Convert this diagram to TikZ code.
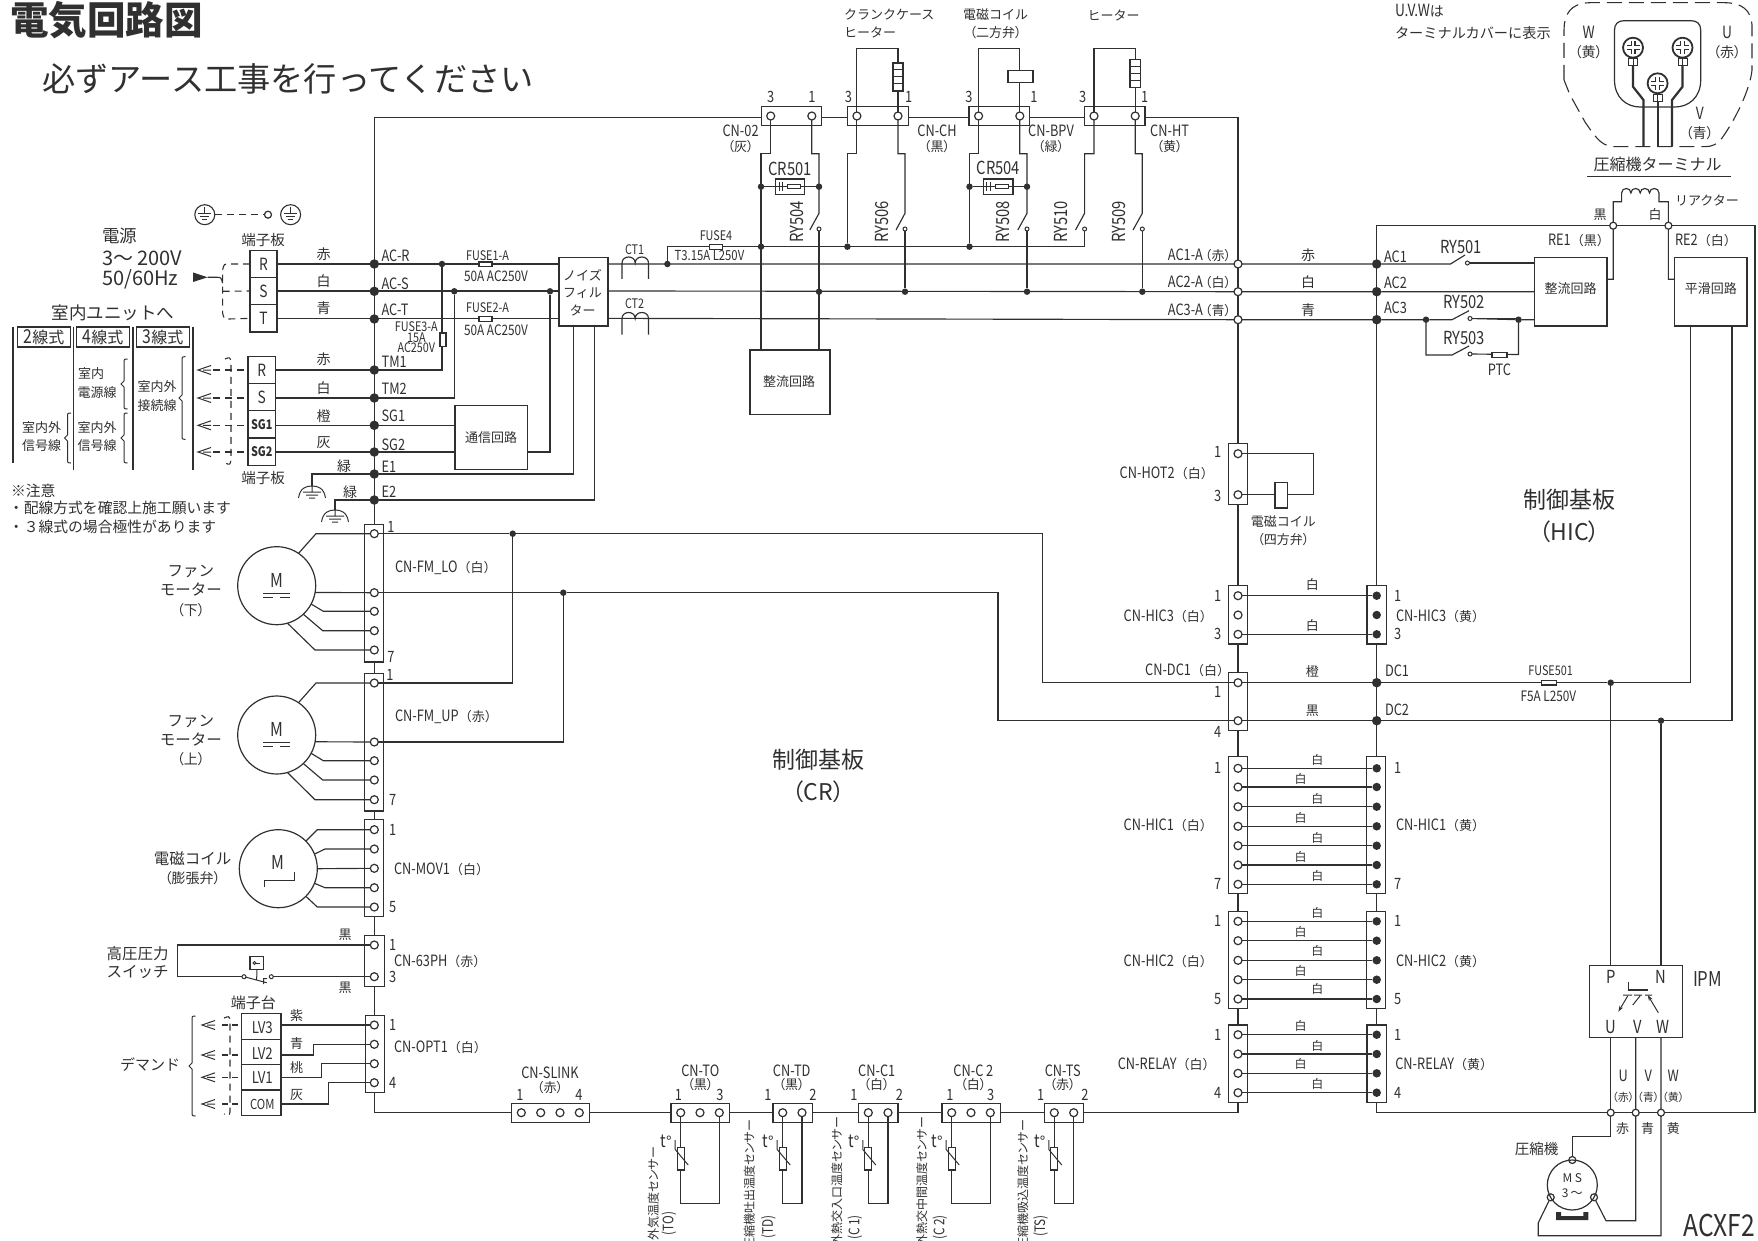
\documentclass[tikz,border=0pt]{standalone}
\usepackage{fontspec}
\setmainfont{Noto Sans CJK JP}
\newfontfamily\nar[FakeStretch=0.82,Scale=1.2]{Noto Sans CJK JP}
\newfontfamily\pal[RawFeature=+palt]{Noto Sans CJK JP}
\usetikzlibrary{backgrounds,arrows.meta}
\definecolor{ink}{HTML}{303030}
\newcommand\fs[1]{\fontsize{#1}{#1}\selectfont}
\newcounter{tn}
\tikzset{
  wire/.style={draw=ink,line width=1.15pt,line join=miter},
  thickwire/.style={draw=ink,line width=2.2pt},
  dashw/.style={draw=ink,line width=1.1pt,dash pattern=on 7pt off 5pt},
  txt/.style={inner sep=0pt,outer sep=0pt,text=ink,font=\fs{13}},
  bx/.style={draw=ink,line width=1.3pt,rectangle,inner sep=0pt,outer sep=0pt},
  wbx/.style={bx,fill=white},
  pinO/.style={circle,draw=ink,line width=1.2pt,fill=white,minimum size=8pt,inner sep=0pt,outer sep=0pt},
  pinS/.style={circle,draw=ink,line width=1pt,fill=white,minimum size=4pt,inner sep=0pt,outer sep=0pt},
  pinB/.style={circle,fill=ink,minimum size=9.5pt,inner sep=0pt,outer sep=0pt},
  pinH/.style={circle,fill=ink,minimum size=8.5pt,inner sep=0pt,outer sep=0pt},
  pinD/.style={circle,fill=ink,minimum size=6.5pt,inner sep=0pt,outer sep=0pt},
  mot/.style={circle,draw=ink,line width=1.2pt,inner sep=0pt,outer sep=0pt,minimum size=78pt},
}
\newcommand\T[4][]{\stepcounter{tn}\node[txt,#1] (t\thetn) at (#2,#3) {#4};}
\newcommand\N[3]{\T{#1}{#2}{\nar #3}}
\newcommand\CN[2]{{\nar #1}（#2）}
\newcommand\Cbox[5]{\pgfmathsetmacro\cx{(#2+#4)/2}\pgfmathsetmacro\cy{(#3+#5)/2}\pgfmathsetmacro\cw{#4-#2}\pgfmathsetmacro\ch{#5-#3}\node[bx,minimum width=\cw pt,minimum height=\ch pt] (#1) at (\cx,\cy) {};}
\newcommand\Wbox[5]{\pgfmathsetmacro\cx{(#2+#4)/2}\pgfmathsetmacro\cy{(#3+#5)/2}\pgfmathsetmacro\cw{#4-#2}\pgfmathsetmacro\ch{#5-#3}\node[wbx,minimum width=\cw pt,minimum height=\ch pt] (#1) at (\cx,\cy) {};}
\newcommand\Brc[3]{\pgfmathsetmacro\ym{(#2+#3)/2}\draw[wire,line width=1pt] (#1+3.5,#2) .. controls (#1,#2) .. (#1,#2+5) -- (#1,\ym-3) -- (#1-3,\ym) -- (#1,\ym+3) -- (#1,#3-5) .. controls (#1,#3) .. (#1+3.5,#3);}
\newcommand\Chev[2]{\draw[wire,line width=1pt] (#1+13,#2-4.5) -- (#1,#2) -- (#1+13,#2+4.5) (#1+5,#2) -- (#1+13,#2);}
\newcommand\EarthIn[2]{\draw[wire,line width=1pt] (#1,#2-8) -- (#1,#2-1) (#1-6.5,#2-1) -- (#1+6.5,#2-1) (#1-4.5,#2+2) -- (#1+4.5,#2+2) (#1-2.5,#2+5) -- (#1+2.5,#2+5);}
\newcommand\Gnd[2]{\draw[wire,line width=1pt] (#1-13.5,#2+12) .. controls (#1-12,#2+2) and (#1-6,#2) .. (#1,#2) .. controls (#1+6,#2) and (#1+12,#2+2) .. (#1+13.5,#2+12) (#1,#2) -- (#1,#2+6) (#1-9,#2+6) -- (#1+9,#2+6) (#1-6,#2+9) -- (#1+6,#2+9) (#1-3,#2+12) -- (#1+3,#2+12);}
\newcommand\CT[1]{\draw[wire] (622,#1+16) -- (622,#1) .. controls (622,#1-8) and (635.2,#1-8) .. (635.2,#1) .. controls (635.2,#1-8) and (648.5,#1-8) .. (648.5,#1) -- (648.5,#1+16);}
\newcommand\Snub[1]{\draw[wire,line width=1pt] (#1+3.5,182) -- (#1+3.5,191.5) (#1+7,182) -- (#1+7,191.5);\draw[wire,line width=1pt,fill=white] (#1+12,184.4) rectangle (#1+25,189);}
\newcommand\Therm[3]{\node[wbx,minimum width=7pt,minimum height=22.3pt] (#3) at (#1,1158.8) {};\draw[wire,line width=1pt] (#1-5.5,1140) -- (#1-5.5,1149.5) -- (#1+7.5,1165);\T[font=\fs{15}]{#1-14.5}{1141}{{\nar t}°}}
\newcommand\Screw[3]{\node[circle,draw=ink,line width=1.8pt,minimum size=20pt,inner sep=0pt,outer sep=0pt] (#3) at (#1,#2) {};\draw[ink,line width=5pt] (#1-6.5,#2) -- (#1+6.5,#2) (#1,#2-6.5) -- (#1,#2+6.5);\draw[white,line width=2.6pt] (#1-6.5,#2) -- (#1+6.5,#2) (#1,#2-6.5) -- (#1,#2+6.5);\draw[wire,line width=1pt,fill=white] (#1-4.5,#2+11) rectangle (#1+4.5,#2+18);\draw[wire,line width=1pt] (#1,#2+11) -- (#1,#2+18);}
\newcommand\MotSign[2]{\T[font=\fs{16}]{#1}{#2-6}{\nar M}\draw[wire,line width=1pt] (#1-13.4,#2+7) -- (#1+13.4,#2+7) (#1-13.4,#2+11.5) -- (#1-4,#2+11.5) (#1+3.5,#2+11.5) -- (#1+13.4,#2+11.5);}
\begin{document}
\begin{tikzpicture}[x=1pt,y=-1pt]
\useasboundingbox (0,0) rectangle (1758,1241);

%% ----- connector boxes -----
\Cbox{cn02}{761.5}{106.7}{821.7}{125.7}
\Cbox{cnch}{847.8}{106.7}{908.3}{125.7}
\Cbox{cnbpv}{969}{106.7}{1029.6}{125.7}
\Cbox{cnht}{1084.6}{106.7}{1145}{125.7}
\Cbox{fmlo}{364.3}{524.3}{383.3}{662}
\Cbox{fmup}{364.3}{673.7}{383.3}{811}
\Cbox{mov}{364.3}{819.7}{383.7}{916.7}
\Cbox{ph}{364.7}{935.3}{384.3}{986.3}
\Cbox{opt}{365.3}{1015.3}{384.3}{1092.7}
\Cbox{slink}{511.7}{1103.3}{589.3}{1122.3}
\Cbox{to}{671}{1103.3}{729.7}{1122.7}
\Cbox{td}{773}{1103.3}{812.3}{1122.7}
\Cbox{cc1}{858.7}{1103.3}{898}{1122.7}
\Cbox{cc2}{942}{1103.3}{1000.7}{1122.7}
\Cbox{ts}{1044.7}{1103.3}{1083.7}{1122.7}
\Cbox{hot}{1228.3}{443.7}{1247.7}{504.3}
\Cbox{h3l}{1228.3}{585.7}{1247.7}{644}
\Cbox{h3r}{1367}{585.7}{1386.3}{644}
\Cbox{dcl}{1228.3}{672.7}{1247.7}{730.7}
\Cbox{h1l}{1228.3}{756.7}{1247.7}{893.7}
\Cbox{h1r}{1366.5}{756.7}{1385.7}{893.7}
\Cbox{h2l}{1228.3}{911.7}{1247.7}{1008.3}
\Cbox{h2r}{1366.5}{911.7}{1385.7}{1008.3}
\Cbox{rll}{1228.3}{1025}{1247.7}{1102.7}
\Cbox{rlr}{1367}{1025}{1386.3}{1102.7}
%% ----- function boxes -----
\Cbox{nf}{559}{257.7}{608}{326}
\Cbox{comm}{455}{405.7}{527.5}{469.3}
\Cbox{rect1}{750}{350}{830}{414.3}
\Cbox{rect2}{1534.7}{257.3}{1607}{326}
\Cbox{smooth}{1674.4}{257.7}{1747}{326}
\Cbox{ipm}{1589.3}{965.3}{1682.7}{1037.3}
%% terminal boards
\Cbox{tb1}{250}{250.7}{277}{277.3}
\Cbox{tb2}{250}{277.3}{277}{304.7}
\Cbox{tb3}{250}{304.7}{277}{332}
\Cbox{ta1}{248}{356.7}{275.6}{383.7}
\Cbox{ta2}{248}{383.7}{275.6}{410.7}
\Cbox{ta3}{248}{410.7}{275.6}{438}
\Cbox{ta4}{248}{438}{275.6}{465.7}
\Cbox{lv3}{241.3}{1013.7}{281}{1039.3}
\Cbox{lv2}{241.3}{1039.3}{281}{1064.7}
\Cbox{lv1}{241.3}{1064.7}{281}{1090}
\Cbox{com}{241.3}{1090}{281}{1115.3}

%% ----- pins -----
\foreach \n/\x in {cn02a/770.7,cn02b/811.8,chA/856.9,chB/898,bpA/978.6,bpB/1019.8,htA/1094,htB/1135.2}
  \node[pinO] (\n) at (\x,116) {};
\foreach \n/\y in {lo1/533.7,lo4/592.7,lo5/611.3,lo6/630.7,lo7/650,up1/683,up4/742,up5/760.7,up6/780,up7/799.7,mv1/829.7,mv2/849,mv3/868.3,mv4/887.7,mv5/907,ph1/945,ph3/976.7,op1/1025,op2/1044.3,op3/1063.7,op4/1082.7}
  \node[pinO] (\n) at (374.3,\y) {};
\foreach \n/\x in {sl1/521.3,sl2/540.7,sl3/560,sl4/579.3,to1/680.7,to2/700,to3/719.3,td1/782.7,td2/802,c11/868.3,c12/888,c21/951.7,c22/971,c23/990.3,ts1/1054.3,ts2/1073.7}
  \node[pinO] (\n) at (\x,1112.7) {};
\foreach \n/\y in {ho1/453.7,ho3/494.7}
  \node[pinO] (\n) at (1238,\y) {};
\foreach \i/\y in {1/595.7,2/615,3/634.3}{
  \node[pinO] (h3l\i) at (1238,\y) {};
  \node[pinH] (h3r\i) at (1376.7,\y) {};}
\node[pinO] (dc1) at (1238,682.7) {};
\node[pinO] (dc2) at (1238,720.7) {};
\foreach \i/\y in {1/768.3,2/787,3/806.7,4/826.3,5/845.7,6/865,7/884.3}{
  \node[pinO] (h1l\i) at (1238,\y) {};
  \node[pinH] (h1r\i) at (1376.7,\y) {};}
\foreach \i/\y in {1/921.3,2/940.7,3/960.3,4/979.7,5/999}{
  \node[pinO] (h2l\i) at (1238,\y) {};
  \node[pinH] (h2r\i) at (1376.7,\y) {};}
\foreach \i/\y in {1/1034.7,2/1054,3/1073.3,4/1092.7}{
  \node[pinO] (rll\i) at (1238,\y) {};
  \node[pinH] (rlr\i) at (1376.7,\y) {};}
%% bus junctions
\foreach \n/\y in {dAR/264,dAS/291.3,dAT/319,dTM1/370,dTM2/398,dSG1/425.3,dSG2/452,dE1/474,dE2/500}
  \node[pinB] (\n) at (374.3,\y) {};
\foreach \n/\y in {oA1/264,oA2/291.7,oA3/319.7}
  \node[pinO] (\n) at (1238,\y) {};
\foreach \n/\y in {bA1/264,bA2/291.7,bA3/319.7,bDC1/682.7,bDC2/720.7}
  \node[pinB] (\n) at (1376.7,\y) {};
\foreach \n/\x/\y in {d442/442/264,d454/454.3/291.3,d550/550/291.3,dF4/667.4/264,d761a/761/186.7,d819a/819/186.7,d761b/761/246.7,d847/847.4/246.7,d969b/969.5/246.7,d969a/969.5/186.7,d1027a/1027/186.7,d819c/819/291.7,d905/905/291.7,d1027c/1027/291.7,d1142/1142.3/291.7,dLoa/512.7/533.7,dLob/563.3/592.7,d1426/1426/319.7,d1518/1518.5/319.7,dP/1610.7/682.7,dN/1661/720.7}
  \node[pinD] (\n) at (\x,\y) {};
\foreach \n/\x/\y in {oRE1/1613.2/225.7,oRE2/1668.4/225.7,oU/1610.7/1112.7,oV/1635.7/1112.7,oW/1661/1112.7,mT/1572.3/1160,mV/1594/1197.3,mW/1550.7/1197.3}
  \node[pinO,minimum size=7pt] (\n) at (\x,\y) {};
%% relay contacts
\foreach \n/\x/\y in {kA/819/229,kB/905/229,kC/1027/229,kD/1084.6/229,kE/1142.3/229,kF/1467.4/263,kG/1470/318.5,kH/1470/354,ph_a/244/976.7,ph_b/271.3/976.7}
  \node[pinS] (\n) at (\x,\y) {};

%% ----- inline components -----
\Wbox{fuse1}{479}{262}{492}{266.7}
\Wbox{fuse2}{479}{316.7}{492}{321.3}
\Wbox{fuse3}{440}{333}{446}{346.7}
\Wbox{fuse4}{709.8}{244.3}{722.8}{249.3}
\Wbox{fuse5}{1541.6}{680.5}{1556.2}{685}
\Wbox{ptc}{1492}{352.7}{1507}{357.3}
\Wbox{heatA}{893}{63}{903}{91}
\Wbox{heatB}{1130}{59.3}{1140.4}{87.3}
\Wbox{coilA}{1008}{70.7}{1033}{82.7}
\Wbox{coilB}{1275}{482.7}{1287.7}{508}
\draw[wire,line width=1pt] (893,70) -- (903,70) (893,77) -- (903,77) (893,84) -- (903,84);
\draw[wire,line width=1pt] (1130,66.3) -- (1140.4,66.3) (1130,73.3) -- (1140.4,73.3) (1130,80.3) -- (1140.4,80.3);
\Cbox{crA}{775.8}{179}{804.7}{194.7}
\Cbox{crB}{983.4}{179}{1013}{194.7}
\Snub{775.8}
\Snub{983.4}
%% pressure switch
\Cbox{pbox}{250}{956.7}{263.7}{969.3}
\node[pinS,minimum size=3pt] (pboxO) at (254.5,963) {};
\draw[wire,line width=1pt] (pboxO) -- (260,963);

%% motors
\node[mot] (mA) at (276.7,585.7) {};
\node[mot] (mB) at (276.7,735) {};
\node[mot] (mC) at (278.3,868.7) {};
\node[circle,draw=ink,line width=1.2pt,minimum size=50pt,inner sep=0pt,outer sep=0pt] (comp) at (1572.3,1185) {};
\MotSign{276.7}{586}
\MotSign{276.7}{735}
\T[font=\fs{16}]{278.3}{862.7}{\nar M}
\draw[wire,line width=1pt] (264,887.3) -- (264,880) -- (294.3,880) -- (294.3,872.3);
%% earth
\node[circle,draw=ink,line width=1.1pt,minimum size=20pt,inner sep=0pt,outer sep=0pt] (eA) at (204.8,214.7) {};
\node[circle,draw=ink,line width=1.1pt,minimum size=20pt,inner sep=0pt,outer sep=0pt] (eB) at (290.6,214.7) {};
\EarthIn{204.8}{214.7}
\EarthIn{290.6}{214.7}
\node[pinO,minimum size=7pt] (eO) at (268,214.7) {};
\Gnd{312}{486}
\Gnd{335}{510}

%% compressor terminal detail
\draw[ink,line width=1.1pt,dash pattern=on 15pt off 7pt] (1564,80) -- (1564,30) .. controls (1564,15) and (1570,3) .. (1590,2.7) -- (1725,2.7) .. controls (1742,3) and (1751,10) .. (1752,25) -- (1752,70) .. controls (1750,90) and (1735,120) .. (1722,138) .. controls (1718,144) and (1712,146.7) .. (1705,146.7) -- (1612,146.7) .. controls (1600,145) and (1594,135) .. (1585,122) -- (1570,95) -- cycle;
\draw[ink,line width=1.2pt] (1624,20.7) -- (1691,20.7) .. controls (1697,20.7) and (1700.7,24) .. (1700.7,30) -- (1700.7,80) .. controls (1700.7,98) and (1688,107) .. (1675,107) -- (1640,107) .. controls (1627,107) and (1614.5,98) .. (1614.5,80) -- (1614.5,30) .. controls (1614.5,24) and (1618,20.7) .. (1624,20.7) -- cycle;
\coordinate (lugA) at (1633,66);
\coordinate (lugB) at (1682.5,66);
\coordinate (lugC) at (1657.6,101.5);
\coordinate (endA) at (1643.5,146.7);
\coordinate (endB) at (1672,146.7);
\coordinate (endC) at (1657.6,146.7);
\draw[thickwire] (lugA) -- (1633,86.7) -- (1643.5,100) -- (endA);
\draw[thickwire] (lugB) -- (1682.5,86.7) -- (1672,100) -- (endB);
\draw[thickwire] (lugC) -- (endC);
\Screw{1633}{47.7}{scA}
\Screw{1682.5}{47.7}{scB}
\Screw{1657.6}{83.3}{scC}
\coordinate (ulA) at (1587,176.7);
\coordinate (ulB) at (1730.7,176.7);
\draw[wire] (ulA) -- (ulB);

%% ----- wires under the pins -----
\begin{pgfonlayer}{background}
%% CR board bus
\coordinate (tl) at (374.3,117.7);
\coordinate (tr) at (1238,117.7);
\coordinate (bl) at (374.3,1112.7);
\coordinate (br) at (1238,1112.7);
\draw[wire] (fmlo.north -| tl) -- (tl) -- (cn02.west |- tl);
\draw[wire] (cn02.east |- tl) -- (cnch.west |- tl);
\draw[wire] (cnch.east |- tl) -- (cnbpv.west |- tl);
\draw[wire] (cnbpv.east |- tl) -- (cnht.west |- tl);
\draw[wire] (cnht.east |- tl) -- (tr) -- (hot.north -| tr);
\draw[wire] (hot.south -| tr) -- (h3l.north -| tr);
\draw[wire] (h3l.south -| tr) -- (dcl.north -| tr);
\draw[wire] (dcl.south -| tr) -- (h1l.north -| tr);
\draw[wire] (h1l.south -| tr) -- (h2l.north -| tr);
\draw[wire] (h2l.south -| tr) -- (rll.north -| tr);
\draw[wire] (rll.south -| tr) -- (br) -- (ts.east |- br);
\draw[wire] (ts.west |- br) -- (cc2.east |- br);
\draw[wire] (cc2.west |- br) -- (cc1.east |- br);
\draw[wire] (cc1.west |- br) -- (td.east |- br);
\draw[wire] (td.west |- br) -- (to.east |- br);
\draw[wire] (to.west |- br) -- (slink.east |- br);
\draw[wire] (slink.west |- bl) -- (bl) -- (opt.south -| bl);
\draw[wire] (opt.north -| bl) -- (ph.south -| bl);
\draw[wire] (ph.north -| bl) -- (mov.south -| bl);
\draw[wire] (mov.north -| bl) -- (fmup.south -| bl);
\draw[wire] (fmup.north -| bl) -- (fmlo.south -| bl);
%% HIC board
\coordinate (htl) at (1376.7,225.7);
\coordinate (htr) at (1755,225.7);
\coordinate (hbl) at (1376.7,1112.7);
\coordinate (hbr) at (1755,1112.7);
\draw[wire] (h3r.north -| htl) -- (htl) -- (htr) -- (hbr) -- (hbl) -- (rlr.south -| hbl);
\draw[wire] (h3r.south -| htl) -- (h1r.north -| htl);
\draw[wire] (h1r.south -| htl) -- (h2r.north -| htl);
\draw[wire] (h2r.south -| htl) -- (rlr.north -| htl);
%% mains
\draw[wire] (tb1.east) -- (tb1.east -| nf.west);
\draw[wire] (tb2.east) -- (tb2.east -| nf.west);
\draw[wire] (tb3.east) -- (tb3.east -| nf.west);
\draw[wire] (tb1.east -| nf.east) -- (oA1) -- (bA1) -- (1450.5,264) -- (1465,255);
\draw[wire] (tb2.east -| nf.east) -- (oA2) -- (bA2) -- (rect2.west |- bA2);
\draw[wire] (tb3.east -| nf.east) -- (oA3) -- (bA3) -- (d1426) -- (1452,319.7) -- (1469,310.7);
\draw[wire] (kG) -- (d1518) -- (rect2.west |- d1518);
\draw[wire] (ta1.east |- dTM1) -- (d442 |- dTM1) -- (d442);
\draw[wire] (ta2.east |- dTM2) -- (d454 |- dTM2) -- (d454);
\draw[wire] (ta3.east |- dSG1) -- (comm.west |- dSG1);
\draw[wire] (ta4.east |- dSG2) -- (comm.west |- dSG2);
\draw[wire] (comm.east |- dSG2) -| (d550);
\coordinate (nfA) at (573.4,326);
\coordinate (nfB) at (594.7,326);
\draw[wire] (312,486) |- (dE1) -| (nfA);
\draw[wire] (335,510) |- (dE2) -| (nfB);
%% feeder
\draw[wire] (dF4) |- (d761b) -| (kD);
\coordinate (ra) at (761,350);
\coordinate (rb) at (819,350);
\draw[wire] (cn02a) -- (770.7,153.7) -- (761,153.7) -- (ra);
\draw[wire] (cn02b) -- (811.8,153.7) -- (819,153.7) -- (819,213.3) -- (809.8,230);
\draw[wire] (kA) -- (rb);
\draw[wire] (chA) -- (856.9,153.7) -- (847.4,153.7) -- (d847);
\draw[wire] (chB) -- (898,153.7) -- (905,153.7) -- (905,213.3) -- (896,230);
\draw[wire] (kB) -- (d905);
\draw[wire] (bpA) -- (978.6,153.7) -- (969.5,153.7) -- (d969b);
\draw[wire] (bpB) -- (1019.8,153.7) -- (1027,153.7) -- (1027,213.3) -- (1017.8,230);
\draw[wire] (kC) -- (d1027c);
\draw[wire] (htA) -- (1094,153.7) -- (1084.6,153.7) -- (1084.6,213.3) -- (1075.5,230);
\draw[wire] (htB) -- (1135.2,153.7) -- (1142.3,153.7) -- (1142.3,213.3) -- (1133,230);
\draw[wire] (kE) -- (d1142);
\draw[wire] (d761a) -- (d819a);
\draw[wire] (d969a) -- (d1027a);
%% loads above the top connectors
\draw[wire] (chA) |- (898,48.7) -- (chB);
\draw[wire] (bpA) |- (1019.8,48.7) -- (bpB);
\draw[wire] (htA) |- (1135.2,48.7) -- (htB);
%% HIC reactors
\draw[wire] (kF) -- (rect2.west |- kF);
\draw[wire] (kG) -- (1518.5,318.5);
\draw[wire] (d1426) |- (1452,355) -- (1469,346);
\draw[wire] (kH) -- (1518.5,354.5) -- (d1518);
\draw[wire] (rect2.east |- 0,279.3) -| (oRE1) -- (1613.2,201.7) -- (1621.6,201.7) -- (1621.6,193) .. controls (1621.6,187) and (1630.9,187) .. (1630.9,193) .. controls (1630.9,187) and (1640.2,187) .. (1640.2,193) .. controls (1640.2,187) and (1649.5,187) .. (1649.5,193) .. controls (1649.5,187) and (1659,187) .. (1659,193) -- (1659,201.7) -- (1668.4,201.7) -- (oRE2) |- (smooth.west |- 0,279.3);
%% fans
\draw[wire] (mA.56) -- (316,533.7) -- (lo1);
\draw[wire] (mA.-10) -- (lo4);
\draw[wire] (mA.-28.5) -- (323.3,611.3) -- (lo5);
\draw[wire] (mA.-47) -- (322.7,630.7) -- (lo6);
\draw[wire] (mA.-74) -- (315,650) -- (lo7);
\draw[wire] (mB.56) -- (316,683) -- (up1);
\draw[wire] (mB.-10) -- (up4);
\draw[wire] (mB.-28.5) -- (323.3,760.7) -- (up5);
\draw[wire] (mB.-47) -- (322.7,780) -- (up6);
\draw[wire] (mB.-74) -- (315,799.7) -- (up7);
\draw[wire] (mC.45) -- (317.3,829.7) -- (mv1);
\draw[wire] (mC.22) -- (325,849) -- (mv2);
\draw[wire] (mC.0) -- (mv3);
\draw[wire] (mC.-22) -- (325,887.7) -- (mv4);
\draw[wire] (mC.-45) -- (317.3,907) -- (mv5);
\draw[wire] (lo1) -- (dLoa) -- (1042.7,533.7) -- (1042.7,682.7) -- (dc1);
\draw[wire] (lo4) -- (dLob) -- (998,592.7) -- (998,720.7) -- (dc2);
\draw[wire] (up1) -| (dLoa);
\draw[wire] (up4) -| (dLob);
%% DC
\coordinate (smA) at (1690.6,326);
\coordinate (smB) at (1732,326);
\draw[wire] (dc1) -- (bDC1) -- (dP) -| (smA);
\draw[wire] (dc2) -- (bDC2) -- (dN) -| (smB);
\draw[wire] (dP) -- (dP |- ipm.north);
\draw[wire] (dN) -- (dN |- ipm.north);
%% HIC connectors
\draw[wire] (h3l1) -- (h3r1);
\draw[wire] (h3l3) -- (h3r3);
\foreach \i in {1,...,7} \draw[wire] (h1l\i) -- (h1r\i);
\foreach \i in {1,...,5} \draw[wire] (h2l\i) -- (h2r\i);
\foreach \i in {1,...,4} \draw[wire] (rll\i) -- (rlr\i);
%% hot2
\draw[wire] (ho1) -- (1313.3,453.7) -- (1313.3,494.7) -- (ho3);
%% 63PH
\draw[wire] (ph1) -- (177.3,945) -- (177.3,976.7) -- (ph_a);
\draw[wire] (ph_b) -- (ph3);
\draw[wire,line width=1pt] (ph_a) -- (266.7,982.7) (pbox.south) -- (256.7,980) (263.5,984) -- (263.5,978.5) -- (267,978.5);
%% opt
\draw[wire] (lv3.east |- op1) -- (op1);
\draw[wire] (lv2.east |- 0,1055) -- (313.3,1055) -- (313.3,1044.3) -- (op2);
\draw[wire] (lv1.east |- 0,1077.7) -- (321.7,1077.7) -- (321.7,1063.7) -- (op3);
\draw[wire] (com.east |- 0,1104) -- (328.7,1104) -- (328.7,1082.7) -- (op4);
%% sensors
\foreach \a/\b in {to1/to3,td1/td2,c11/c12,c21/c23,ts1/ts2}
  \draw[wire] (\a) |- (\b |- 0,1203.3) -- (\b);
%% IPM to compressor
\draw[wire] (ipm.south -| oU) -- (oU) -- (1610.7,1136.7) -- (1572.3,1136.7) -- (mT);
\draw[wire] (ipm.south -| oV) -- (oV) -- (1635.7,1220.7) -- (1606,1220.7) -- (mV);
\draw[wire] (ipm.south -| oW) -- (oW) -- (1661,1235.7) -- (1538.3,1235.7) -- (1538.3,1222.7) -- (mW);
%% mains dashes
\draw[dashw] (tb1.west) -- (229,264) .. controls (224,264) .. (222.6,270) -- (222.6,313) .. controls (224,319) .. (229,319) -- (tb3.west);
\draw[dashw] (222.6,291.3) -- (tb2.west);
\draw[wire] (207.6,277.3) -- (217,277.3) .. controls (221,277.3) .. (222.6,283);
\draw[dashw] (eA) -- (eO);
\draw[dashw] (225,359) .. controls (230,357) .. (231,362) -- (231,460) .. controls (230,465) .. (225,463);
\foreach \y/\n in {370/ta1,398/ta2,425.3/ta3,452/ta4}
  \draw[dashw] (213,\y) -- (\n.west |- 0,\y);
\draw[dashw] (224,1018) .. controls (229,1016) .. (230,1020) -- (230,1112) .. controls (229,1116) .. (224,1114);
\foreach \y/\n in {1025/lv3,1055/lv2,1077.3/lv1,1104/com}
  \draw[dashw,dash pattern=on 6pt off 4pt] (222,\y) -- (\n.west |- 0,\y);
\end{pgfonlayer}

%% symbols that sit on top
\fill[ink] (193,272.5) -- (207.6,277.3) -- (193,282) -- cycle;
\foreach \y in {370,398,425.3,452} {\Chev{198}{\y}}
\foreach \y in {1025,1055,1077.3,1104} {\Chev{202}{\y}}
\CT{263}
\CT{318.5}
\Therm{680.7}{0}{thA}
\Therm{782.7}{0}{thB}
\Therm{868.3}{0}{thC}
\Therm{951.7}{0}{thD}
\Therm{1054.3}{0}{thE}
\fill[ink] (1556,1212) -- (1561,1212) -- (1561,1216) -- (1583.3,1216) -- (1583.3,1212) -- (1588.3,1212) -- (1588.3,1220) -- (1556,1220) -- cycle;
\draw[wire] (1628.3,981.7) -- (1628.3,990) -- (1648.3,990);
\draw[wire,line width=1pt] (1623,995) -- (1632,995) (1634,995) -- (1642,995) (1645,995) -- (1652,995) (1640,996) -- (1632.7,1005);
\draw[wire,line width=1pt,-{Stealth[length=6pt,width=4pt]}] (1627.7,996) -- (1618.3,1011.7);
\draw[wire,line width=1pt,-{Stealth[length=6pt,width=4pt]}] (1658.3,1012.7) -- (1647.7,995);
%% brackets
\Brc{124}{359}{409}
\Brc{124}{413}{463}
\Brc{67.5}{413}{463}
\Brc{182}{356.7}{439.3}
\Brc{192}{1016}{1116}
%% table
\draw[wire] (13,326.7) -- (13,462.7) (73.5,326.7) -- (73.5,470) (133,326.7) -- (133,470) (193,326.7) -- (193,470);
\Cbox{w2}{17.8}{327}{70.4}{347}
\Cbox{w4}{76.3}{327}{129.3}{347}
\Cbox{w3}{136.4}{327}{189.8}{347}

%% ------- texts -------
\T[anchor=west,font=\fs{38.5}\bfseries]{10}{20}{電気回路図}
\T[anchor=west,font=\fs{33.2}]{42}{78.5}{必ずアース工事を行ってください}
\T[font=\fs{17.5}]{119.5}{236}{電源}
\T[anchor=west,font=\fs{20}]{102}{258}{3〜 200V}
\T[anchor=west,font=\fs{20}]{102}{279}{50/60Hz}
\T[font=\fs{14.5}]{263}{240}{端子板}
\T[font=\fs{14.5}]{263}{478}{端子板}
\T[font=\fs{17.5}]{113}{313}{室内ユニットへ}
\T[font=\fs{16}]{44}{337}{{\nar 2}線式}
\T[font=\fs{16}]{103}{337}{{\nar 4}線式}
\T[font=\fs{16}]{163}{337}{{\nar 3}線式}
\T{91}{374}{室内}
\T{97}{392.7}{電源線}
\T{41.5}{427.7}{室内外}
\T{41.5}{445.7}{信号線}
\T{97}{427.7}{室内外}
\T{97}{445.7}{信号線}
\T{157}{387}{室内外}
\T{157}{406}{接続線}
\T[font=\fs{14}]{263.5}{264}{\nar R}
\T[font=\fs{14}]{263.5}{291}{\nar S}
\T[font=\fs{14}]{263.5}{318.5}{\nar T}
\T[font=\fs{14}]{261.8}{370}{\nar R}
\T[font=\fs{14}]{261.8}{397}{\nar S}
\T[font=\fs{11}\bfseries]{261.8}{424.5}{\nar SG1}
\T[font=\fs{11}\bfseries]{261.8}{452}{\nar SG2}
\T[anchor=west,font=\fs{14.8}]{11}{491}{※注意}
\T[anchor=west,font=\fs{14.8}]{9}{508}{・配線方式を確認上施工願います}
\T[anchor=west,font=\fs{14.8}]{9}{527}{・３線式の場合極性があります}
\foreach \x/\y/\s in {323.5/254/赤,323.5/280.7/白,323.5/308/青,323.5/359/赤,323.5/387.7/白,323.5/415.7/橙,323.5/442.7/灰,344/465.7/緑,350/492/緑,1308/255.7/赤,1308/282/白,1308/310/青}
  {\T[font=\fs{14}]{\x}{\y}{\s}}
\foreach \y/\s in {256/AC-R,283.7/AC-S,310/AC-T,362/TM1,389/TM2,416/SG1,444.7/SG2,466.7/E1,492/E2}
  {\T[anchor=west]{381.6}{\y}{\nar \s}}
\T[font=\fs{11}]{487.5}{255.3}{\nar FUSE1-A}
\T[font=\fs{12}]{496}{276}{\nar 50A AC250V}
\T[font=\fs{11}]{487.5}{308}{\nar FUSE2-A}
\T[font=\fs{12}]{496}{330}{\nar 50A AC250V}
\T[font=\fs{11}]{416.4}{326.7}{\nar FUSE3-A}
\T[font=\fs{11}]{416.4}{337.3}{\nar 15A}
\T[font=\fs{11}]{416.4}{348}{\nar AC250V}
\T{582.5}{275}{ノイズ}
\T{582.5}{292.7}{フィル}
\T{582.5}{310}{ター}
\T{491}{437.5}{通信回路}
\T{789}{381.7}{整流回路}
\T{1570.7}{288.3}{整流回路}
\T{1710.8}{288.3}{平滑回路}
\T[font=\fs{11}]{634.6}{250}{\nar CT1}
\T[font=\fs{11}]{634.6}{304}{\nar CT2}
\T[font=\fs{11}]{716}{236}{\nar FUSE4}
\T[anchor=west,font=\fs{11.5}]{674.6}{256}{\nar T3.15A L250V}
\T[font=\fs{15}]{790}{169}{\nar CR501}
\T[font=\fs{15}]{998.4}{167.7}{\nar CR504}
\foreach \x/\s in {796.7/RY504,881.8/RY506,1003.5/RY508,1061/RY510,1119/RY509}
  {\T[rotate=90,font=\fs{15}]{\x}{222}{\nar \s}}
\foreach \x/\s in {770.7/3,811.8/1,848.5/3,908.6/1,968.8/3,1034/1,1082.6/3,1144.7/1}
  {\N{\x}{96.7}{\s}}
\T{740.6}{130.7}{\nar CN-02}\T{740.6}{146.7}{\pal（灰）}
\T{937}{130.7}{\nar CN-CH}\T{937}{146.7}{\pal（黒）}
\T{1051}{130.7}{\nar CN-BPV}\T{1051}{146.7}{\pal（緑）}
\T{1169.6}{130.7}{\nar CN-HT}\T{1169.6}{146.7}{\pal（黄）}
\T[anchor=west]{844}{15}{クランクケース}
\T[anchor=west]{844}{32}{ヒーター}
\T{995.6}{15}{電磁コイル}
\T{995.6}{32.7}{\pal（二方弁）}
\T{1113.5}{15}{ヒーター}
\T[anchor=east]{1231}{255.7}{{\nar AC1-A}\hspace{2pt}{\pal（赤）}}
\T[anchor=east]{1231}{282.7}{{\nar AC2-A}\hspace{2pt}{\pal（白）}}
\T[anchor=east]{1231}{310}{{\nar AC3-A}\hspace{2pt}{\pal（青）}}
%% right top
\T[anchor=west]{1384}{256.7}{\nar AC1}
\T[anchor=west]{1384}{283}{\nar AC2}
\T[anchor=west]{1384}{308}{\nar AC3}
\T[font=\fs{15}]{1461}{246.7}{\nar RY501}
\T[font=\fs{15}]{1464}{301.7}{\nar RY502}
\T[font=\fs{15}]{1464}{338.3}{\nar RY503}
\T[font=\fs{13}]{1499.4}{370}{\nar PTC}
\T{1600}{215}{黒}
\T{1655}{215}{白}
\T[anchor=west]{1675}{200}{リアクター}
\T[anchor=west]{1548}{240}{\CN{RE1}{黒}}
\T[anchor=west]{1675}{240}{\CN{RE2}{白}}
\T[font=\fs{14}]{1588.6}{32}{\nar W}
\T[font=\fs{14}]{1588.6}{51.7}{\pal（黄）}
\T[font=\fs{14}]{1727}{32}{\nar U}
\T[font=\fs{14}]{1727}{52}{\pal（赤）}
\T[font=\fs{14}]{1699.7}{113}{\nar V}
\T[font=\fs{14}]{1699.7}{132.7}{\pal（青）}
\T[anchor=west,font=\fs{14}]{1395}{11}{{\nar U.V.W}は}
\T[anchor=west,font=\fs{14.2}]{1395}{32.7}{ターミナルカバーに表示}
\T[font=\fs{16}]{1657.6}{164}{圧縮機ターミナル}
%% fans
\T[font=\fs{15.5}]{190.8}{571.7}{ファン}
\T[font=\fs{15.5}]{190.8}{590}{モーター}
\T[font=\fs{14}]{190.8}{610}{\pal（下）}
\T[font=\fs{15.5}]{190.8}{721}{ファン}
\T[font=\fs{15.5}]{190.8}{740}{モーター}
\T[font=\fs{14}]{190.8}{759}{\pal（上）}
\T[font=\fs{15.5}]{192.7}{859}{電磁コイル}
\T[font=\fs{14}]{192.7}{877.7}{\pal（膨張弁）}
\T[font=\fs{15.5}]{137.7}{953.3}{高圧圧力}
\T[font=\fs{15.5}]{137.7}{971.7}{スイッチ}
\T[font=\fs{15}]{253.3}{1002.3}{端子台}
\T[font=\fs{15}]{150}{1064.3}{デマンド}
\N{391}{526.7}{1}\N{391}{657}{7}\N{390}{675}{1}\N{392.7}{800}{7}
\N{392.7}{830}{1}\N{392.7}{907}{5}\N{392.7}{945}{1}\N{392.7}{976.7}{3}\N{392.7}{1025}{1}\N{392.7}{1082.7}{4}
\T[anchor=west]{395}{567.7}{\CN{CN-FM\_LO}{白}}
\T[anchor=west]{395}{716.7}{\CN{CN-FM\_UP}{赤}}
\T[anchor=west]{394}{869.3}{\CN{CN-MOV1}{白}}
\T[anchor=west]{394}{961.7}{\CN{CN-63PH}{赤}}
\T[anchor=west]{394}{1047.3}{\CN{CN-OPT1}{白}}
\T{345}{935}{黒}
\T{345}{987.3}{黒}
\T[font=\fs{13.5}]{262.3}{1027.3}{\nar LV3}
\T[font=\fs{13.5}]{262.3}{1053.3}{\nar LV2}
\T[font=\fs{13.5}]{262.3}{1077.7}{\nar LV1}
\T[font=\fs{11.5}]{262.3}{1104}{\nar COM}
\T{296.7}{1016}{紫}
\T{296.7}{1044}{青}
\T{296.7}{1067.3}{桃}
\T{296.7}{1095}{灰}
%% bottom connectors
\T{550}{1072.7}{\nar CN-SLINK}\T{550}{1087.3}{\pal（赤）}
\N{520}{1095}{1}\N{579}{1095}{4}
\T{700.3}{1070.7}{\nar CN-TO}\T{700.3}{1084.3}{\pal（黒）}
\N{678.3}{1095}{1}\N{720}{1095}{3}
\T{791.7}{1070.7}{\nar CN-TD}\T{791.7}{1084.3}{\pal（黒）}
\N{768}{1095}{1}\N{813}{1095}{2}
\T{876.7}{1070.7}{\nar CN-C1}\T{876.7}{1084.3}{\pal（白）}
\N{854}{1095}{1}\N{899.3}{1095}{2}
\T{973.3}{1070.7}{\nar CN-C\,2}\T{973.3}{1084.3}{\pal（白）}
\N{950}{1095}{1}\N{990.7}{1095}{3}
\T{1062.7}{1070.7}{\nar CN-TS}\T{1062.7}{1084.3}{\pal（赤）}
\N{1040.7}{1095}{1}\N{1085}{1095}{2}
\T[rotate=90,anchor=east,font=\fs{12}]{653.3}{1147}{\pal 外気温度センサー}
\T[rotate=90,anchor=east,font=\fs{12}]{669}{1211.7}{\nar (TO)}
\T[rotate=90,anchor=east,font=\fs{12}]{749.3}{1120}{\pal 圧縮機吐出温度センサー}
\T[rotate=90,anchor=east,font=\fs{12}]{768.3}{1215}{\nar (TD)}
\T[rotate=90,anchor=east,font=\fs{12}]{836.7}{1117}{\pal 室外熱交入口温度センサー}
\T[rotate=90,anchor=east,font=\fs{12}]{855}{1215}{\nar (C\,1)}
\T[rotate=90,anchor=east,font=\fs{12}]{921.7}{1117}{\pal 室外熱交中間温度センサー}
\T[rotate=90,anchor=east,font=\fs{12}]{940}{1215}{\nar (C\,2)}
\T[rotate=90,anchor=east,font=\fs{12}]{1022.7}{1120}{\pal 圧縮機吸込温度センサー}
\T[rotate=90,anchor=east,font=\fs{12}]{1040.7}{1215}{\nar (TS)}
%% middle labels
\N{1217.7}{452.3}{1}\N{1217.7}{496}{3}
\T{1166.7}{473.3}{\CN{CN-HOT2}{白}}
\T{1283.3}{521.7}{電磁コイル}
\T{1283.3}{540}{\pal（四方弁）}
\N{1217.7}{595.7}{1}\N{1217.7}{634.3}{3}\N{1397.7}{595.7}{1}\N{1397.7}{634.3}{3}
\T{1168.3}{616}{\CN{CN-HIC3}{白}}
\T[anchor=west]{1396}{616}{\CN{CN-HIC3}{黄}}
\T{1312.3}{585}{白}\T{1312.3}{625.7}{白}
\T{1312.3}{671.7}{橙}\T{1312.3}{711}{黒}
\T[anchor=east]{1230}{670.7}{\CN{CN-DC1}{白}}
\N{1217.7}{692.3}{1}\N{1217.7}{731.7}{4}
\T[anchor=west]{1385}{670.7}{\nar DC1}
\T[anchor=west]{1385}{709.3}{\nar DC2}
\T[font=\fs{11}]{1550.6}{670.4}{\nar FUSE501}
\T[font=\fs{12}]{1548.4}{696}{\nar F5A L250V}
\N{1217.7}{768.3}{1}\N{1217.7}{884.3}{7}\N{1397.7}{768.3}{1}\N{1397.7}{884.3}{7}
\N{1217.7}{921.3}{1}\N{1217.7}{999}{5}\N{1397.7}{921.3}{1}\N{1397.7}{999}{5}
\N{1217.7}{1034.7}{1}\N{1217.7}{1092.7}{4}\N{1397.7}{1034.7}{1}\N{1397.7}{1092.7}{4}
\T{1168.3}{825}{\CN{CN-HIC1}{白}}
\T[anchor=west]{1396}{825}{\CN{CN-HIC1}{黄}}
\T{1168.3}{961}{\CN{CN-HIC2}{白}}
\T[anchor=west]{1396}{961}{\CN{CN-HIC2}{黄}}
\T{1166.7}{1064.3}{\CN{CN-RELAY}{白}}
\T[anchor=west]{1395.3}{1064.3}{\CN{CN-RELAY}{黄}}
\foreach \x/\y in {1317.3/760,1300.7/779,1317.3/799,1300.7/818,1317.3/837.7,1300.7/856.7,1317.3/876,1317.3/912.7,1300.7/931.7,1317.3/950.7,1300.7/970.7,1317.3/989.3,1300.7/1025.7,1317.3/1045.7,1300.7/1064.3,1317.3/1084.3}
  {\T[font=\fs{12}]{\x}{\y}{白}}
\T[font=\fs{23}]{818.5}{760}{制御基板}
\T[font=\fs{23}]{818.5}{791.5}{\pal（CR）}
\T[font=\fs{23}]{1569.6}{500}{制御基板}
\T[font=\fs{23}]{1569.6}{531.5}{\pal（HIC）}
%% IPM / compressor
\T[font=\fs{15}]{1610.7}{977.3}{\nar P}
\T[font=\fs{15}]{1661}{977.3}{\nar N}
\T[font=\fs{15}]{1610.7}{1027.3}{\nar U}
\T[font=\fs{15}]{1637.3}{1027.3}{\nar V}
\T[font=\fs{15}]{1662.7}{1027.3}{\nar W}
\T[anchor=west,font=\fs{17}]{1693}{979}{\nar IPM}
\T[font=\fs{13}]{1623.3}{1076}{\nar U}
\T[font=\fs{13}]{1648.3}{1076}{\nar V}
\T[font=\fs{13}]{1673.3}{1076}{\nar W}
\T[font=\fs{11}]{1623.3}{1097.3}{\pal（赤）}
\T[font=\fs{11}]{1648.3}{1097.3}{\pal（青）}
\T[font=\fs{11}]{1673.3}{1097.3}{\pal（黄）}
\T{1622.7}{1129}{赤}\T{1647.7}{1129}{青}\T{1673.3}{1129}{黄}
\T[font=\fs{14.5}]{1536.7}{1149.3}{圧縮機}
\T[font=\fs{12}]{1572.3}{1178}{M S}
\T[font=\fs{12}]{1572.3}{1193.3}{3\,〜}
\T[anchor=west,font=\fs{25}]{1683.3}{1225}{\nar ACXF2}
\end{tikzpicture}
\end{document}
